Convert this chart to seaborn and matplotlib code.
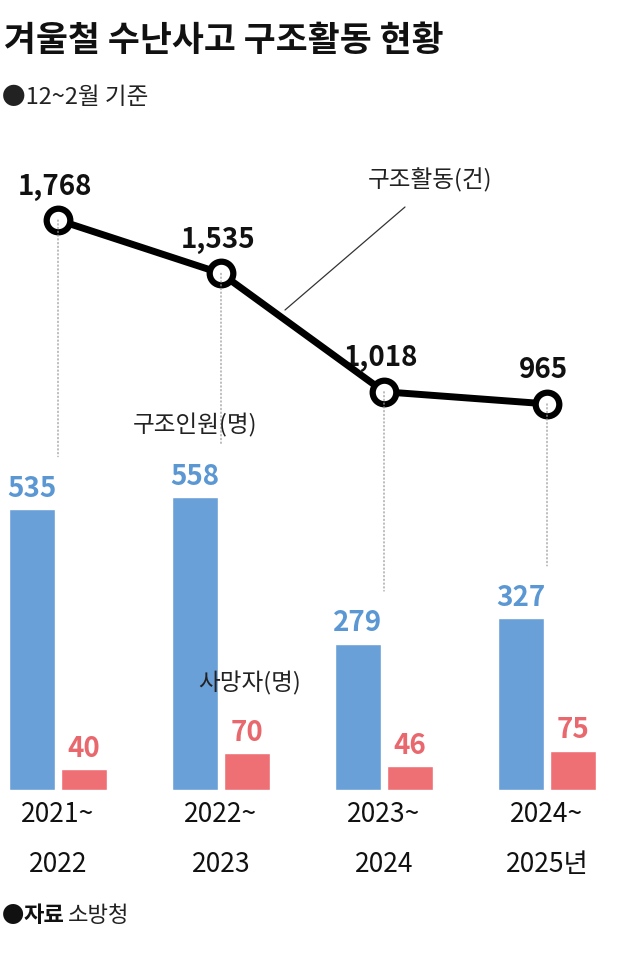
import pandas as pd
import matplotlib.pyplot as plt
import seaborn as sns
from matplotlib.patches import ConnectionPatch

# --- data ---
years = ["2021~\n2022", "2022~\n2023", "2023~\n2024", "2024~\n2025년"]
rescue_acts = [1768, 1535, 1018, 965]
rescued = [535, 558, 279, 327]
deaths = [40, 70, 46, 75]

BLUE = "#6aa0d8"
RED = "#ee6f74"
BLUE_TXT = "#5a97d3"
RED_TXT = "#e8686e"

sns.set_theme(style="white")
plt.rcParams["font.family"] = ["Noto Sans CJK KR", "DejaVu Sans"]

W, H = 640, 961
fig = plt.figure(figsize=(6.4, 9.61), dpi=100)

XL = (-58 / 163, (640 - 58) / 163)

# bars axes: baseline at 790px, 0.525 px per person
bar_bottom = 790
px_per = 0.525
top_val = 600
ax_b = fig.add_axes([0, (H - bar_bottom) / H, 1, top_val * px_per / H])
df = pd.DataFrame({
    "year": years * 2,
    "kind": ["구조인원"] * 4 + ["사망자"] * 4,
    "value": rescued + deaths,
})
sns.barplot(data=df, x="year", y="value", hue="kind", palette=[BLUE, RED],
            width=0.64, gap=0.125, dodge=True, ax=ax_b, legend=False, saturation=1)
ax_b.set_xlim(*XL)
ax_b.set_ylim(0, top_val)
ax_b.axis("off")
for i in range(4):
    ax_b.text(i - 0.16, rescued[i] + 12, f"{rescued[i]:,}", ha="center", va="bottom",
              fontsize=20, fontweight="bold", color=BLUE_TXT)
    ax_b.text(i + 0.16, deaths[i] + 12, f"{deaths[i]:,}", ha="center", va="bottom",
              fontsize=20, fontweight="bold", color=RED_TXT)

# line axes: whole figure, 1768 at 220px, 0.229 px per case
lp = 0.229
ax_l = fig.add_axes([0, 0, 1, 1])
ax_l.patch.set_alpha(0)
y_top = 1768 + 220 / lp
y_bot = 1768 - (H - 220) / lp
xs = list(range(4))
sns.lineplot(x=xs, y=rescue_acts, ax=ax_l, color="black", linewidth=5,
             marker="o", markersize=17, markerfacecolor="white",
             markeredgecolor="black", markeredgewidth=4.5, zorder=5)
ax_l.set_xlim(*XL)
ax_l.set_ylim(y_bot, y_top)
ax_l.axis("off")
for i, v in enumerate(rescue_acts):
    ax_l.text(i - 0.02, v + 85, f"{v:,}", ha="center", va="bottom",
              fontsize=20, fontweight="bold", color="#111111")
    con = ConnectionPatch(xyA=(i, v), coordsA=ax_l.transData,
                          xyB=(i, rescued[i] + 100),
                          coordsB=ax_b.transData, color="#999999",
                          linestyle=(0, (1, 2)), linewidth=0.9, zorder=1)
    fig.add_artist(con)

# annotations
fig.text(430 / W, 1 - 180 / H, "구조활동(건)", fontsize=17, ha="center", va="center", color="#222222")
fig.add_artist(plt.Line2D([405 / W, 285 / W], [1 - 207 / H, 1 - 310 / H], color="#333333", linewidth=0.9))
fig.text(195 / W, 1 - 425 / H, "구조인원(명)", fontsize=17, ha="center", va="center", color="#222222")
fig.text(250 / W, 1 - 683 / H, "사망자(명)", fontsize=17, ha="center", va="center", color="#222222")

for i, lab in enumerate(years):
    xf = (58 + 163 * i) / W
    a, b = lab.split("\n")
    fig.text(xf, 1 - 815 / H, a, fontsize=19, ha="center", va="center", color="#111111")
    fig.text(xf, 1 - 865 / H, b, fontsize=19, ha="center", va="center", color="#111111")

fig.text(4 / W, 1 - 40 / H, "겨울철 수난사고 구조활동 현황", fontsize=25, fontweight="bold",
         ha="left", va="center", color="#111111")
fig.text(2 / W, 1 - 97 / H, "●12~2월 기준", fontsize=17, ha="left", va="center", color="#222222")
fig.text(2 / W, 1 - 915 / H, "●", fontsize=16, ha="left", va="center", color="#111111")
fig.text(24 / W, 1 - 915 / H, "자료", fontsize=16, fontweight="bold", ha="left", va="center", color="#111111")
fig.text(68 / W, 1 - 915 / H, "소방청", fontsize=16, ha="left", va="center", color="#222222")

fig.savefig("out.png", dpi=100, facecolor="white")
